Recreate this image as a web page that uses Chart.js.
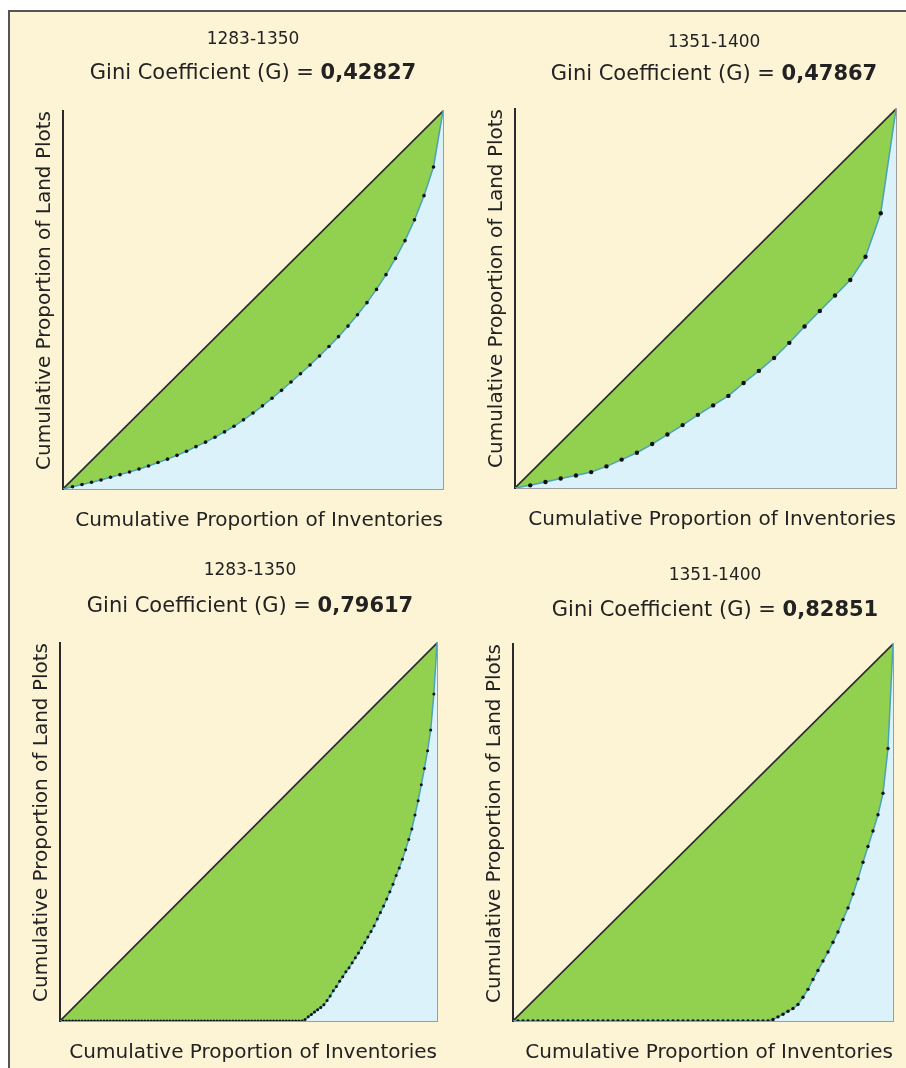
<!DOCTYPE html>
<html>
<head>
<meta charset="utf-8">
<script src="https://cdn.jsdelivr.net/npm/chart.js@4"></script>
<style>
    body { margin: 0; background: #ffffff; }
    #frame {
        position: absolute; left: 8px; top: 10px; width: 898px; height: 1058px;
        background: #fdf4d6; border-top: 2px solid #555; border-left: 2px solid #555;
        box-sizing: border-box;
    }
    canvas { position: absolute; }
</style>
</head>
<body>
<div id="frame"></div>
<canvas id="c1" width="450" height="530" style="left:10px;top:12px"></canvas>
<canvas id="c2" width="444" height="530" style="left:462px;top:12px"></canvas>
<canvas id="c3" width="450" height="523" style="left:10px;top:545px"></canvas>
<canvas id="c4" width="444" height="523" style="left:462px;top:545px"></canvas>
<script>
// periods and Gini coefficients shown above each panel
const periods = ['1283-1350', '1351-1400', '1283-1350', '1351-1400'];
const giniValues = ['0,42827', '0,47867', '0,79617', '0,82851'];
const xTitle = 'Cumulative Proportion of Inventories';
const yTitle = 'Cumulative Proportion of Land Plots';

// cumulative share of land plots, one value per inventory step
const lorenz1 = [0, 0.006, 0.012, 0.018, 0.024, 0.031, 0.038, 0.045, 0.053, 0.061,
    0.070, 0.079, 0.089, 0.100, 0.112, 0.124, 0.137, 0.151, 0.166, 0.183,
    0.201, 0.220, 0.240, 0.261, 0.283, 0.305, 0.328, 0.352, 0.377, 0.403,
    0.431, 0.461, 0.493, 0.528, 0.567, 0.610, 0.657, 0.712, 0.776, 0.852, 1.0];
const lorenz2 = [0, 0.007, 0.016, 0.025, 0.033, 0.042, 0.057, 0.075, 0.093, 0.116,
    0.141, 0.166, 0.193, 0.218, 0.243, 0.277, 0.309, 0.343, 0.383, 0.426,
    0.467, 0.508, 0.549, 0.610, 0.725, 1.0];
// lower panels: a run of inventories with no plots, then the rising part
const zeroCount3 = 78;
const lorenz3Tail = [0.004, 0.011, 0.017, 0.024, 0.030, 0.036, 0.043, 0.054, 0.066, 0.080,
    0.091, 0.105, 0.117, 0.130, 0.141, 0.154, 0.167, 0.180, 0.194, 0.208,
    0.222, 0.237, 0.252, 0.270, 0.287, 0.304, 0.323, 0.342, 0.362, 0.385,
    0.405, 0.428, 0.453, 0.480, 0.508, 0.545, 0.583, 0.625, 0.668, 0.715,
    0.770, 0.865, 1.0];
const zeroCount4 = 52;
const lorenz4Tail = [0.004, 0.011, 0.018, 0.026, 0.033, 0.044, 0.063, 0.084, 0.110, 0.134,
    0.159, 0.183, 0.209, 0.236, 0.269, 0.300, 0.337, 0.377, 0.421, 0.463,
    0.504, 0.547, 0.604, 0.723, 1.0];

const FONT = 'DejaVu Sans';
const AXIS_SIZE = 20;
const Y_TITLE_W = 24 + 2 + 6;
const X_TITLE_H = 24 + 20 + 4;

function toPoints(ys) {
    return ys.map((y, i) => ({x: i / (ys.length - 1), y: y}));
}

const headerPlugin = {
    id: 'header',
    afterDraw(chart, args, opts) {
        const ctx = chart.ctx;
        ctx.save();
        ctx.fillStyle = '#222';
        ctx.textBaseline = 'middle';
        ctx.textAlign = 'center';
        ctx.font = '17px "' + FONT + '"';
        ctx.fillText(opts.period, opts.cx, opts.y1);
        const left = 'Gini Coefficient (G) = ';
        ctx.font = '21px "' + FONT + '"';
        const w1 = ctx.measureText(left).width;
        ctx.font = 'bold 21px "' + FONT + '"';
        const w2 = ctx.measureText(opts.gini).width;
        let x = opts.cx - (w1 + w2) / 2;
        ctx.textAlign = 'left';
        ctx.font = '21px "' + FONT + '"';
        ctx.fillText(left, x, opts.y2);
        ctx.font = 'bold 21px "' + FONT + '"';
        ctx.fillText(opts.gini, x + w1, opts.y2);
        ctx.restore();
    }
};

function lorenzChart(id, box, plot, head, ys, dotSize) {
    const last = ys.length - 1;
    const data = {
        datasets: [{
                label: 'equality',
                data: [{x: 0, y: 0}, {x: 1, y: 1}],
                borderColor: '#2a2a2a',
                borderWidth: 1.6,
                backgroundColor: '#92d050',
                fill: 'origin',
                pointRadius: 0,
                order: 3
            }, {
                label: 'lorenz',
                data: toPoints(ys),
                borderColor: '#4aa3b8',
                borderWidth: 1.5,
                backgroundColor: '#dcf2fb',
                fill: 'origin',
                pointBackgroundColor: '#111',
                pointBorderWidth: 0,
                pointRadius: c => (c.dataIndex === 0 || c.dataIndex === last) ? 0 : dotSize,
                order: 2
            }]
    };
    const noGrid = {display: false, drawTicks: false};
    const config = {
        type: 'line',
        data: data,
        plugins: [headerPlugin],
        options: {
            responsive: false,
            animation: false,
            events: [],
            layout: {
                autoPadding: false,
                padding: {
                    left: plot.l - box.left - Y_TITLE_W,
                    top: plot.t - box.top,
                    right: box.left + box.width - plot.r,
                    bottom: box.top + box.height - plot.b - X_TITLE_H
                }
            },
            plugins: {
                legend: {display: false},
                tooltip: {enabled: false},
                header: {
                    period: head.period, gini: head.gini,
                    cx: head.cx - box.left, y1: head.y1 - box.top, y2: head.y2 - box.top
                }
            },
            scales: {
                x: {
                    type: 'linear', min: 0, max: 1,
                    grid: noGrid,
                    ticks: {display: false},
                    border: {color: '#9c9c9c', width: 2},
                    title: {display: true, text: xTitle, color: '#222', align: 'end',
                        font: {family: FONT, size: AXIS_SIZE}, padding: {top: 20, bottom: 4}}
                },
                y: {
                    type: 'linear', min: 0, max: 1, position: 'left',
                    grid: noGrid,
                    ticks: {display: false},
                    border: {color: '#2a2a2a', width: 2},
                    title: {display: true, text: yTitle, color: '#222', align: 'end',
                        font: {family: FONT, size: AXIS_SIZE}, padding: {top: 2, bottom: 6}}
                },
                y2: {
                    type: 'linear', min: 0, max: 1, position: 'right',
                    grid: noGrid,
                    ticks: {display: false},
                    border: {color: '#9c9c9c', width: 2}
                }
            }
        }
    };
    let ctx = document.getElementById(id).getContext("2d")
    new Chart(ctx, config)
}

const lorenz3 = Array(zeroCount3).fill(0).concat(lorenz3Tail);
const lorenz4 = Array(zeroCount4).fill(0).concat(lorenz4Tail);

lorenzChart('c1', {left: 10, top: 12, width: 450, height: 530}, {l: 63, t: 111, r: 443, b: 489},
    {period: periods[0], gini: giniValues[0], cx: 253, y1: 40, y2: 74}, lorenz1, 1.8);
lorenzChart('c2', {left: 462, top: 12, width: 444, height: 530}, {l: 515, t: 109, r: 896, b: 488},
    {period: periods[1], gini: giniValues[1], cx: 714, y1: 43, y2: 75}, lorenz2, 2.2);
lorenzChart('c3', {left: 10, top: 545, width: 450, height: 523}, {l: 60, t: 643, r: 437, b: 1021},
    {period: periods[2], gini: giniValues[2], cx: 250, y1: 571, y2: 607}, lorenz3, 1.5);
lorenzChart('c4', {left: 462, top: 545, width: 444, height: 523}, {l: 513, t: 644, r: 893, b: 1021},
    {period: periods[3], gini: giniValues[3], cx: 715, y1: 576, y2: 611}, lorenz4, 1.7);
</script>
</body>
</html>
